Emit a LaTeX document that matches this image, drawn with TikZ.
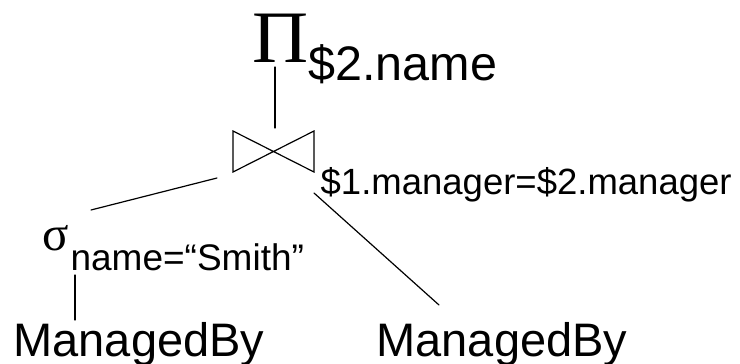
\documentclass[tikz,border=0pt]{standalone}
\usepackage{fontspec}
\setmainfont{Liberation Sans}
\newfontfamily\symfont{Liberation Serif}
\tikzset{
  lbl/.style={anchor=base west, inner sep=0pt, outer sep=0pt},
  conn/.style={line width=1.2pt, line cap=round},
}
\begin{document}
\begin{tikzpicture}[x=1pt,y=-1pt]
\fill[white] (0,0) rectangle (740,364);
\useasboundingbox (0,0) rectangle (740,364);
% nodes
\node[lbl] (pi) at (252,62) {\symfont\fontsize{74pt}{74pt}\selectfont\scalebox{1.05}[1]{Π}};
\node[lbl] (pisub) at (308.3,80) {\fontsize{48.5pt}{50pt}\selectfont \$2.name};
\node[inner sep=0pt, outer sep=0pt, minimum width=81pt, minimum height=41pt] (join) at (273.5,151.5) {};
\draw[conn, line cap=butt, line join=miter] (join.north west) -- (join.south east) -- (join.north east) -- (join.south west) -- cycle;
\node[lbl] (cond) at (320.7,194) {\fontsize{36.5pt}{38pt}\selectfont \$1.manager=\$2.manager};
\node[lbl] (sigma) at (42,250.5) {\symfont\fontsize{49pt}{49pt}\selectfont σ};
\node[lbl] (sigsub) at (70.6,270) {\fontsize{37pt}{38pt}\selectfont name=“Smith”};
\node[lbl] (mb1) at (13.5,356) {\fontsize{47pt}{48pt}\selectfont ManagedBy};
\node[lbl] (mb2) at (376.5,356) {\fontsize{47pt}{48pt}\selectfont ManagedBy};
% connector ends
\coordinate (jtop) at (275,128);
\coordinate (ptop) at (275,67);
\coordinate (jl) at (217,178);
\coordinate (sl) at (91,210);
\coordinate (jr) at (314,193);
\coordinate (mr) at (439,305);
\coordinate (sb) at (75,275);
\coordinate (mt) at (75,320);
% connectors
\draw[conn] (ptop) -- (jtop);
\draw[conn] (jl) -- (sl);
\draw[conn] (jr) -- (mr);
\draw[conn] (sb) -- (mt);
\end{tikzpicture}
\end{document}
